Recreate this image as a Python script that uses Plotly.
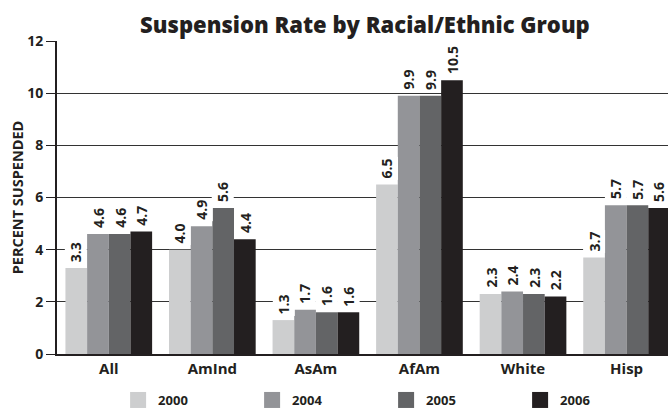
import plotly.graph_objects as go

# Suspension rates (percent) by group and school year
groups = ["All", "AmInd", "AsAm", "AfAm", "White", "Hisp"]
years = ["2000", "2004", "2005", "2006"]
rate_2000 = [3.3, 4.0, 1.3, 6.5, 2.3, 3.7]
rate_2004 = [4.6, 4.9, 1.7, 9.9, 2.4, 5.7]
rate_2005 = [4.6, 5.6, 1.6, 9.9, 2.3, 5.7]
rate_2006 = [4.7, 4.4, 1.6, 10.5, 2.2, 5.6]
series = [rate_2000, rate_2004, rate_2005, rate_2006]
colors = ["#cdcecf", "#939498", "#636466", "#231f20"]

FONT = "Open Sans"
BARGAP = 0.163
n_series = len(series)
bar_w = (1 - BARGAP) / n_series

fig = go.Figure()
for year, vals, col in zip(years, series, colors):
    fig.add_trace(go.Bar(
        x=list(range(len(groups))), y=vals, name=year,
        marker=dict(color=col, line=dict(width=0)),
        showlegend=False, hoverinfo="y",
    ))
    # legend swatch
    fig.add_trace(go.Scatter(
        x=[None], y=[None], mode="markers", name=year,
        marker=dict(symbol="square", size=16, color=col),
        showlegend=True,
    ))

# value labels above each bar
annotations = []
for j, vals in enumerate(series):
    offset = (j - (n_series - 1) / 2) * bar_w
    for i, v in enumerate(vals):
        annotations.append(dict(
            x=i + offset, y=v, xref="x", yref="y",
            text=f"{v:.1f}", textangle=-90, showarrow=False,
            xanchor="center", yanchor="bottom", yshift=4,
            bgcolor="white", borderpad=1,
            font=dict(family=FONT, size=14, color="#231f20", weight="bold"),
        ))

fig.update_layout(
    width=668, height=410,
    margin=dict(l=57, r=0, t=41, b=56, autoexpand=False),
    paper_bgcolor="white", plot_bgcolor="white",
    barmode="group", bargap=BARGAP, bargroupgap=0,
    font=dict(family=FONT, color="#231f20"),
    title=dict(
        text="Suspension Rate by Racial/Ethnic Group",
        x=0.504, xanchor="center", xref="paper",
        y=0.958, yanchor="top",
        font=dict(family=FONT, size=22, color="#231f20", weight=800),
    ),
    xaxis=dict(
        tickmode="array", tickvals=list(range(len(groups))), ticktext=groups,
        range=[-0.5, 5.40], showgrid=False, zeroline=False,
        showline=True, linecolor="#231f20", linewidth=2,
        ticks="", tickfont=dict(family=FONT, size=15, weight="bold"),
    ),
    yaxis=dict(
        range=[0, 12], dtick=2, tick0=0,
        showgrid=True, gridcolor="#333333", gridwidth=1.4,
        zeroline=False, showline=True, linecolor="#231f20", linewidth=2,
        ticks="outside", ticklen=9, tickcolor="#231f20", tickwidth=1,
        tickfont=dict(family=FONT, size=14, weight="bold"),
        title=dict(text="PERCENT SUSPENDED", standoff=0,
                   font=dict(family=FONT, size=14.5, weight="bold")),
    ),
    legend=dict(
        orientation="h", x=0.1, xanchor="left", y=-0.147, yanchor="middle",
        entrywidth=89, entrywidthmode="pixels",
        font=dict(family=FONT, size=13, weight="bold"),
        bgcolor="rgba(0,0,0,0)",
    ),
    annotations=annotations,
)

fig.write_html("out.html")
